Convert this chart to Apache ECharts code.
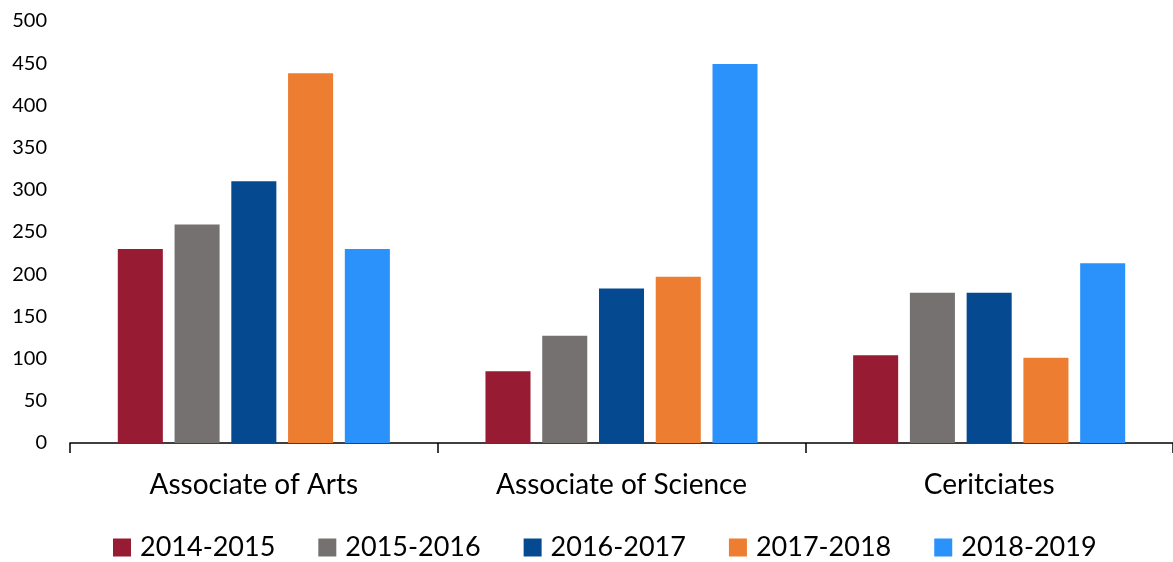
<!DOCTYPE html>
<html>
<head>
<meta charset="utf-8">
<script src="https://cdn.jsdelivr.net/npm/echarts@6/dist/echarts.min.js"></script>
<style>
  html, body { margin: 0; padding: 0; background: #fff; }
  #chart { width: 1173px; height: 562px; }
</style>
</head>
<body>
<div id="chart"></div>
<script>
// categories and series
var categories = ["Associate of Arts", "Associate of Science", "Ceritciates"];
var years = ["2014-2015", "2015-2016", "2016-2017", "2017-2018", "2018-2019"];
var y2014 = [230, 85, 104];
var y2015 = [259, 127, 178];
var y2016 = [310, 183, 178];
var y2017 = [438, 197, 101];
var y2018 = [230, 449, 213];
var colors = ["#981B34", "#767171", "#054A91", "#ED7D31", "#2A92FA"];

var seriesValues = [y2014, y2015, y2016, y2017, y2018];
var font = "Lato";

var chart = echarts.init(document.getElementById("chart"));
var series = years.map(function (name, i) {
  return {
    name: name,
    type: "bar",
    data: seriesValues[i],
    barGap: "26%",
    barCategoryGap: "26%",
    itemStyle: { color: colors[i] }
  };
});

chart.setOption({
  animation: false,
  color: colors,
  grid: { left: 70, top: 21, width: 1108, height: 422 },
  legend: {
    data: years,
    left: 113,
    top: 534,
    padding: 0,
    itemWidth: 18,
    itemHeight: 18,
    itemGap: 43,
    icon: "rect",
    textStyle: { fontFamily: font, fontSize: 27, color: "#000", padding: [0, 0, 0, 4] }
  },
  xAxis: {
    type: "category",
    data: categories,
    axisLine: { lineStyle: { color: "#000", width: 1.5 } },
    axisTick: { show: true, length: 10, lineStyle: { color: "#000", width: 1.5 } },
    axisLabel: { fontFamily: font, fontSize: 28, color: "#000", margin: 28 }
  },
  yAxis: {
    type: "value",
    min: 0,
    max: 500,
    interval: 50,
    axisLine: { show: false },
    axisTick: { show: false },
    splitLine: { show: false },
    axisLabel: { fontFamily: font, fontSize: 20, color: "#000", margin: 23 }
  },
  series: series
});
</script>
</body>
</html>
